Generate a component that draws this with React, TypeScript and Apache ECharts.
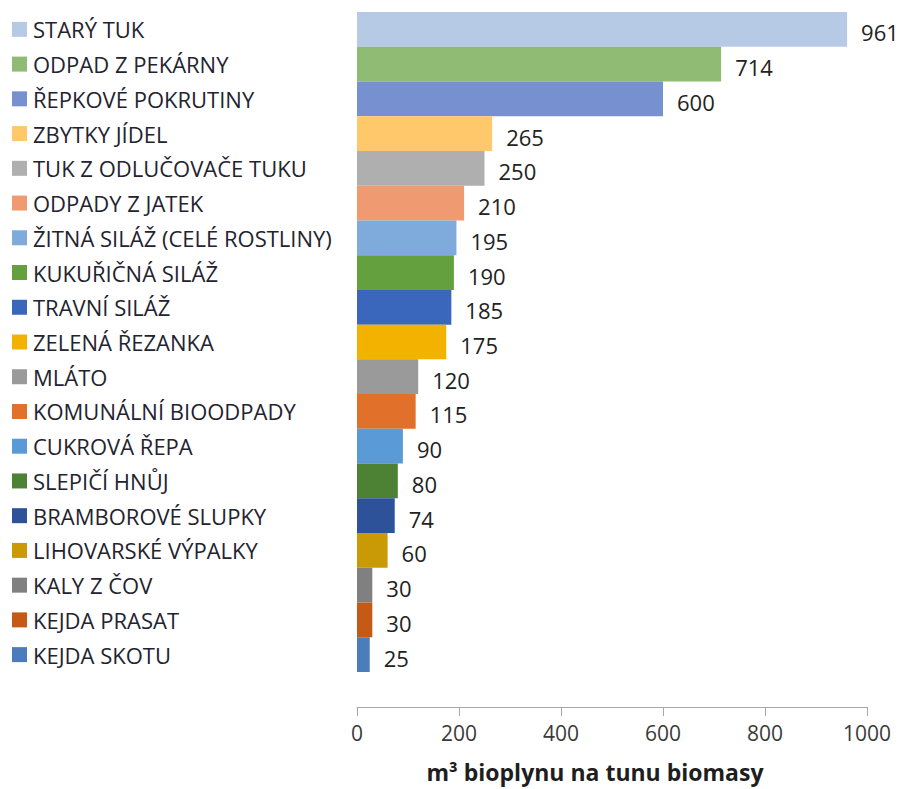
import React, { useEffect, useRef } from "react";
import * as echarts from "echarts";

const categories = [
  "STARÝ TUK",
  "ODPAD Z PEKÁRNY",
  "ŘEPKOVÉ POKRUTINY",
  "ZBYTKY JÍDEL",
  "TUK Z ODLUČOVAČE TUKU",
  "ODPADY Z JATEK",
  "ŽITNÁ SILÁŽ (CELÉ ROSTLINY)",
  "KUKUŘIČNÁ SILÁŽ",
  "TRAVNÍ SILÁŽ",
  "ZELENÁ ŘEZANKA",
  "MLÁTO",
  "KOMUNÁLNÍ BIOODPADY",
  "CUKROVÁ ŘEPA",
  "SLEPIČÍ HNŮJ",
  "BRAMBOROVÉ SLUPKY",
  "LIHOVARSKÉ VÝPALKY",
  "KALY Z ČOV",
  "KEJDA PRASAT",
  "KEJDA SKOTU",
];

const values = [961, 714, 600, 265, 250, 210, 195, 190, 185, 175, 120, 115, 90, 80, 74, 60, 30, 30, 25];

const colors = [
  "#b6cae6",
  "#8fbb74",
  "#7690d0",
  "#ffc86a",
  "#afafaf",
  "#f09a72",
  "#7eaadc",
  "#65a03f",
  "#3a66bb",
  "#f3b200",
  "#9a9a9a",
  "#e0702a",
  "#5a9ad6",
  "#4d8234",
  "#2e529a",
  "#c99a05",
  "#808080",
  "#c45a16",
  "#4a7db9",
];

const xTicks = { min: 0, max: 1000, interval: 200 };
const axisTitle = "m³ bioplynu na tunu biomasy";

const FONT = "'Open Sans', Lato, sans-serif";

export default function App() {
  const ref = useRef<HTMLDivElement>(null);

  useEffect(() => {
    if (!ref.current) return;
    const chart = echarts.init(ref.current, undefined, { renderer: "svg" });

    const rich: Record<string, any> = {
      t: { fontSize: 22, color: "#23232f", fontFamily: FONT, padding: [0, 0, 0, 6] },
    };
    colors.forEach((c, i) => {
      rich["s" + i] = { width: 15, height: 15, backgroundColor: c };
    });

    chart.setOption({
      animation: false,
      backgroundColor: "#ffffff",
      textStyle: { fontFamily: FONT },
      grid: {
        left: 357,
        right: 37,
        top: 12,
        bottom: 117,
        containLabel: false,
        outerBoundsMode: "none",
      },
      xAxis: {
        type: "value",
        min: xTicks.min,
        max: xTicks.max,
        interval: xTicks.interval,
        offset: 35,
        splitLine: { show: false },
        axisLine: { show: true, lineStyle: { color: "#a8a8a8", width: 1 } },
        axisTick: { show: true, length: 9, lineStyle: { color: "#a8a8a8" } },
        axisLabel: {
          fontSize: 21,
          color: "#3a3a3a",
          margin: 15,
          fontFamily: FONT,
          formatter: (v: number) => String(v),
        },
        name: axisTitle,
        nameLocation: "middle",
        nameGap: 52,
        nameTextStyle: {
          fontSize: 23,
          lineHeight: 26,
          fontWeight: "bold",
          color: "#1e1e1e",
          fontFamily: FONT,
          padding: [0, 34, 0, 0],
        },
      },
      yAxis: {
        type: "category",
        data: categories,
        inverse: true,
        axisLine: { show: false },
        axisTick: { show: false },
        splitLine: { show: false },
        axisLabel: {
          align: "left",
          margin: 345,
          formatter: (v: string, i: number) => `{s${i}|}{t|${v}}`,
          rich,
        },
      },
      series: [
        {
          type: "bar",
          barCategoryGap: "0%",
          data: values.map((v, i) => ({ value: v, itemStyle: { color: colors[i] } })),
          label: {
            show: true,
            position: "right",
            distance: 14,
            offset: [0, 3],
            fontSize: 22,
            color: "#222222",
            fontFamily: FONT,
          },
        },
      ],
    });

    return () => chart.dispose();
  }, []);

  return (
    <div
      ref={ref}
      style={{ position: "fixed", left: 0, top: 0, width: 904, height: 789 }}
    />
  );
}
